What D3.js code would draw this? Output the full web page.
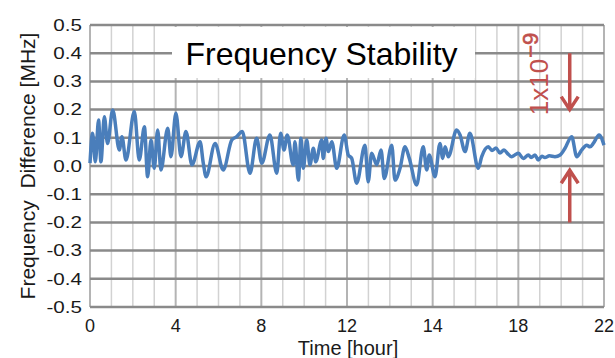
<html>
    <head>
        <script src='https://d3js.org/d3.v7.min.js'></script>
        <style> body {margin: 0; background: white} </style>
    </head>
    <body>
        <svg width=615 height=358></svg>
        <script>
            // measured series: time in hours (grid columns) and frequency difference in MHz
            var hours = [0, 0.12, 0.25, 0.40, 0.51, 0.67, 0.82, 1.06, 1.37, 1.49, 1.68, 2.07, 2.30, 2.54, 2.69, 2.85, 3.0, 3.16, 3.31, 3.63, 3.78, 4.01, 4.25, 4.48, 4.76,
                5.14, 5.29, 5.42, 5.84, 6.22, 6.62, 6.85, 7.11, 7.47, 7.78, 8.02, 8.40, 8.72, 8.90, 9.06, 9.21, 9.49, 9.57, 9.73,
                9.85, 9.96, 10.12, 10.27, 10.43, 10.54, 10.82, 10.89, 11.02, 11.13, 11.29, 11.52, 11.87, 12.06, 12.22, 12.45, 12.84, 12.99, 13.15, 13.39, 13.59, 13.74, 14.09, 14.24, 14.47,
                14.71, 14.91, 15.25, 15.56, 15.72, 15.84, 16.11, 16.34, 16.47, 16.58, 16.73, 17.12, 17.28, 17.51, 17.74, 18.13, 18.29, 18.60,
                18.77, 18.96, 19.14, 19.33, 19.5, 19.69, 19.85, 20.0, 20.23, 20.47, 20.6, 20.78, 20.93, 21.1, 21.24, 21.45, 21.71, 21.95, 22.18, 22.49, 22.73, 22.96, 23.19, 23.35, 23.5, 23.77, 24.0];
            var freqDiff = [0.01, 0.116, 0.015, 0.163, 0.015, 0.175, 0.08, 0.199, 0.057, 0.104, 0.021, 0.193, 0.021, 0.139, -0.038, 0.092, -0.008, 0.128, -0.014, 0.134, 0.033, 0.187, 0.033, 0.122, 0.004,
                0.086, 0.01, -0.038, 0.08, -0.014, 0.092, 0.104, 0.122, -0.026, 0.098, 0.01, 0.11, -0.026, 0.116, 0.057, 0.11, 0.004, 0.086, -0.05,
                0.098, -0.008, 0.092, 0.004, 0.063, 0.015, 0.092, 0.027, 0.098, 0.051, 0.086, -0.008, 0.11, 0.039, 0.027, -0.061, 0.074, -0.056, 0.045, 0.004, 0.057, -0.044, 0.074, -0.05, -0.01,
                0.068, 0.027, -0.067, 0.068, -0.014, 0.039, -0.038, 0.08, 0.027, 0.068, 0.033, 0.128, 0.11, 0.051, 0.116, -0.008, 0.033, 0.068,
                0.055, 0.064, 0.046, 0.057, 0.044, 0.033, 0.040, 0.045, 0.027, 0.039, 0.030, 0.039, 0.021, 0.035, 0.030, 0.036, 0.033, 0.039, 0.063, 0.104, 0.033, 0.057, 0.074, 0.068, 0.08, 0.11, 0.074];

            var xTickHours = [0, 4, 8, 12, 16, 20, 24];
            var xTickLabels = ['0', '4', '8', '12', '14', '18', '22'];
            var yTicks = [-0.5, -0.4, -0.3, -0.2, -0.1, 0.0, 0.1, 0.2, 0.3, 0.4, 0.5];

            // annotation: stability band arrows (MHz) and where they sit
            var arrowDown = [0.4, 0.2];
            var arrowUp = [-0.2, -0.015];
            var arrowHour = 22.4;
            var noteHour = 21.4;
            var noteValue = 0.18;

            var fontFamily = "'Liberation Sans', Arial, sans-serif";
            var red = '#c0504d';

            var x = d3.scaleLinear().domain([0, 24]).range([90, 604]);
            var y = d3.scaleLinear().domain([-0.5, 0.5]).range([307, 25]);
            var svg = d3.select('svg');

            /**
             * Vertical grid (one line per hour, darker under the labels)
             */
            svg.append('g')
              .selectAll('line')
              .data(d3.range(0, 25))
              .enter()
              .append('line')
              .attr('x1', function (d) { return x(d); })
              .attr('x2', function (d) { return x(d); })
              .attr('y1', y(0.5))
              .attr('y2', y(-0.5))
              .style('stroke', function (d) { return d % 4 == 0 ? '#b4b4b4' : '#d2d2d2'; })
              .style('stroke-width', function (d) { return d % 4 == 0 ? 2 : 1.5; });

            /**
             * Horizontal grid
             */
            svg.append('g')
              .selectAll('line')
              .data(yTicks)
              .enter()
              .append('line')
              .attr('x1', x(0))
              .attr('x2', x(24))
              .attr('y1', function (d) { return y(d); })
              .attr('y2', function (d) { return y(d); })
              .style('stroke', '#8a8a8a')
              .style('stroke-width', 2.5);

            /**
             * Title with its white box
             */
            svg.append('rect')
              .attr('x', 172)
              .attr('y', 27)
              .attr('width', 303)
              .attr('height', 51)
              .style('fill', 'white');

            svg.append('text')
              .attr('x', 321.5)
              .attr('y', 65)
              .attr('text-anchor', 'middle')
              .style('font-family', fontFamily)
              .style('font-size', '32px')
              .style('fill', 'black')
              .text('Frequency Stability');

            /**
             * Y tick labels (wide lettering)
             */
            svg.append('g')
              .selectAll('text')
              .data(yTicks)
              .enter()
              .append('text')
              .attr('transform', function (d) { return 'translate(82,' + y(d) + ') scale(1.25,1)'; })
              .attr('text-anchor', 'end')
              .attr('dominant-baseline', 'central')
              .style('font-family', fontFamily)
              .style('font-size', '16.5px')
              .style('fill', '#1a1a1a')
              .text(function (d) { return d.toFixed(1); });

            /**
             * X tick labels
             */
            svg.append('g')
              .selectAll('text')
              .data(xTickHours)
              .enter()
              .append('text')
              .attr('x', function (d) { return x(d); })
              .attr('y', 332)
              .attr('text-anchor', 'middle')
              .style('font-family', fontFamily)
              .style('font-size', '18px')
              .style('fill', '#1a1a1a')
              .text(function (d, i) { return xTickLabels[i]; });

            /**
             * Axis titles
             */
            svg.append('text')
              .attr('transform', 'translate(35,' + y(0) + ')rotate(-90)')
              .attr('text-anchor', 'middle')
              .attr('xml:space', 'preserve')
              .style('font-family', fontFamily)
              .style('font-size', '21px')
              .style('fill', '#1a1a1a')
              .text('Frequency  Difference [MHz]');

            svg.append('text')
              .attr('x', 348)
              .attr('y', 355)
              .attr('text-anchor', 'middle')
              .style('font-family', fontFamily)
              .style('font-size', '20px')
              .style('fill', '#1a1a1a')
              .text('Time [hour]');

            /**
             * The measured line
             */
            var lineData = hours.map(function (h, i) { return [h, freqDiff[i]]; });
            var line = d3.line()
              .x(function (d) { return x(d[0]); })
              .y(function (d) { return y(d[1]); })
              .curve(d3.curveMonotoneX);

            svg.append('path')
              .datum(lineData)
              .attr('d', line)
              .style('fill', 'none')
              .style('stroke', '#4a7ebb')
              .style('stroke-width', 3.5)
              .style('stroke-linejoin', 'round');

            /**
             * Annotation: 1x10^-9 with arrows
             */
            var note = svg.append('text')
              .attr('transform', 'translate(' + x(noteHour) + ',' + y(noteValue) + ')rotate(-90)')
              .style('font-family', fontFamily)
              .style('font-size', '26px')
              .style('fill', red);
            note.append('tspan').text('1x10');
            note.append('tspan')
              .attr('dy', -10)
              .attr('dx', 1)
              .style('font-size', '22px')
              .style('stroke', red)
              .style('stroke-width', 0.6)
              .text('\u2212' + '9');

            function arrow(pair) {
                var ax = x(arrowHour);
                var y0 = y(pair[0]), y1 = y(pair[1]);
                var dir = y1 > y0 ? -1 : 1;
                svg.append('path')
                  .attr('d', 'M' + ax + ',' + y0 + 'L' + ax + ',' + y1 +
                        'M' + (ax - 8.5) + ',' + (y1 + dir * 13) + 'L' + ax + ',' + y1 + 'L' + (ax + 8.5) + ',' + (y1 + dir * 13))
                  .style('fill', 'none')
                  .style('stroke', red)
                  .style('stroke-width', 3.5);
            }
            arrow(arrowDown);
            arrow(arrowUp);
        </script>
    </body>
</html>
